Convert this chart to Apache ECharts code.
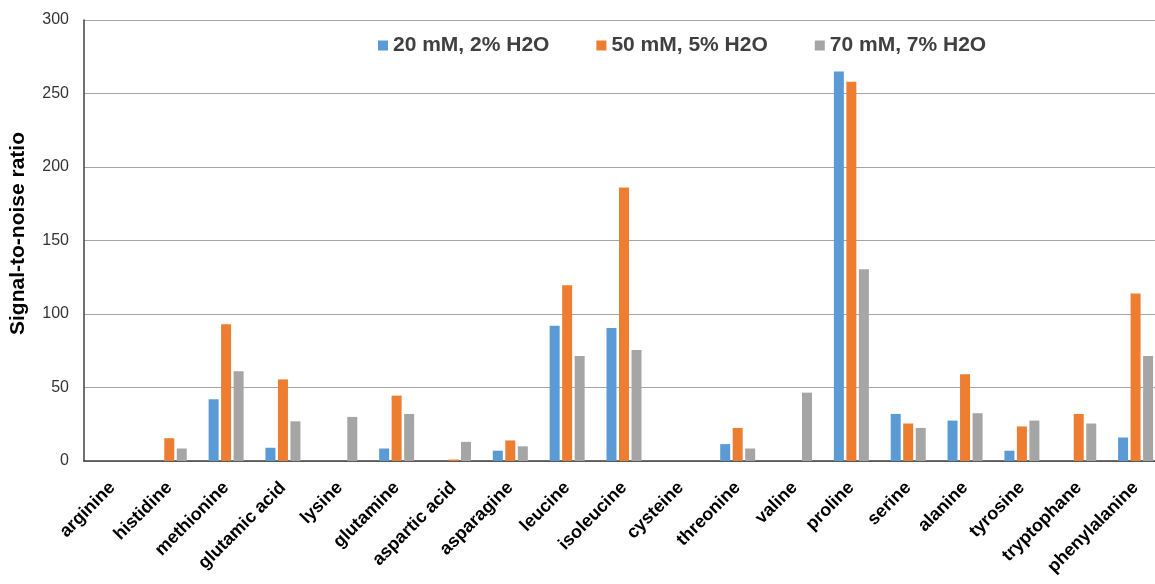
<!DOCTYPE html>
<html>
<head>
<meta charset="utf-8">
<script src="https://cdn.jsdelivr.net/npm/echarts@6/dist/echarts.min.js"></script>
<style>
html,body{margin:0;padding:0;background:#fff;}
#c{width:1155px;height:584px;}
</style>
</head>
<body>
<div id="c"></div>
<script>
const categories = ['arginine','histidine','methionine','glutamic acid','lysine','glutamine','aspartic acid','asparagine','leucine','isoleucine','cysteine','threonine','valine','proline','serine','alanine','tyrosine','tryptophane','phenylalanine'];
const seriesNames = ['20 mM, 2% H2O','50 mM, 5% H2O','70 mM, 7% H2O'];
const s20 = [0, 0, 42, 9, 0, 8.5, 0, 7, 92, 90.5, 0, 11.5, 0, 265, 32, 27.5, 7, 0, 16];
const s50 = [0, 15.5, 93, 55.5, 0, 44.5, 1, 14, 119.5, 186, 0, 22.5, 0, 258, 25.5, 59, 23.5, 32, 114];
const s70 = [0, 8.5, 61, 27, 30, 32, 13, 10, 71.5, 75.5, 0, 8.5, 46.5, 130.5, 22.5, 32.5, 27.5, 25.5, 71.5];
const yTicks = [0, 50, 100, 150, 200, 250, 300];
const colors = ['#5B9BD5', '#ED7D31', '#A5A5A5'];

const chart = echarts.init(document.getElementById('c'));
const font = '"Liberation Sans", Arial, sans-serif';
const mk = (name, data, color) => ({
  name, type: 'bar', data, barWidth: 10, barGap: '25%',
  itemStyle: { color }
});
chart.setOption({
  animation: false,
  textStyle: { fontFamily: font },
  color: colors,
  legend: {
    top: 30, left: 373,
    itemWidth: 10, itemHeight: 10, itemGap: 47,
    icon: 'rect',
    textStyle: { fontFamily: font, fontWeight: 'bold', fontSize: 21, color: '#404040' },
    data: seriesNames
  },
  grid: { left: 84, right: -9, top: 20, bottom: 123, containLabel: false, outerBoundsMode: 'none' },
  xAxis: {
    type: 'category', data: categories,
    axisLine: { lineStyle: { color: '#404040', width: 1.5 } },
    axisTick: { show: false },
    axisLabel: { rotate: 45, interval: 0, margin: 24, fontFamily: font, fontWeight: 'bold', fontSize: 18, color: '#000' }
  },
  yAxis: {
    type: 'value', min: yTicks[0], max: yTicks[yTicks.length-1], interval: 50,
    name: 'Signal-to-noise ratio', nameLocation: 'middle', nameGap: 55,
    nameTextStyle: { fontFamily: font, fontWeight: 'bold', fontSize: 21, color: '#000', padding: [0, 0, 0, 14] },
    axisLine: { show: true, lineStyle: { color: '#404040', width: 1.5 } },
    axisTick: { show: false },
    axisLabel: { margin: 15, fontFamily: font, fontSize: 16, color: '#333' },
    splitLine: { lineStyle: { color: '#A6A6A6', width: 1 } }
  },
  series: [mk(seriesNames[0], s20, colors[0]), mk(seriesNames[1], s50, colors[1]), mk(seriesNames[2], s70, colors[2])]
});
</script>
</body>
</html>
